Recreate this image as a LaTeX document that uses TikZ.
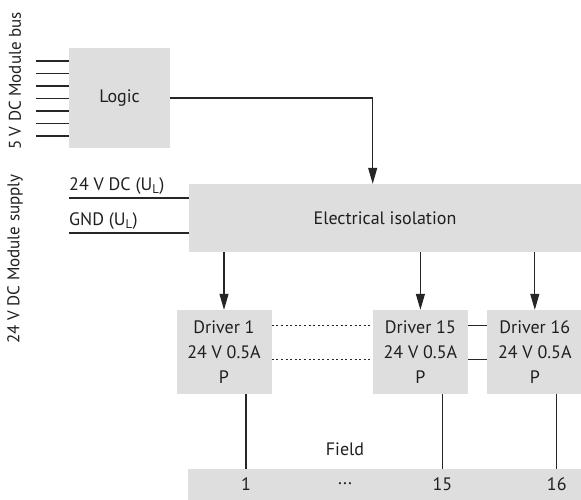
\documentclass[tikz,border=0pt]{standalone}
\usepackage{fontspec}
\setmainfont{PT Sans}
\usetikzlibrary{positioning,arrows.meta}

\begin{document}
\begin{tikzpicture}[
        x=1pt, y=-1pt,
        font=\fontsize{18}{25}\selectfont,
        text=black!88,
        box/.style={fill=black!13, align=center, inner sep=0pt},
        drvbox/.style={box, minimum width=95pt, minimum height=84pt},
        wire/.style={line width=1.1pt, black!85},
        arrow/.style={wire, -{Triangle[width=9pt, length=16pt]}},
        dotwire/.style={wire, dash pattern=on 2pt off 2.6pt},
        lbl/.style={inner sep=0pt}
    ]
    \useasboundingbox (0,0) rectangle (581,500);

    % --- Side labels ---
    \node[lbl, rotate=90, font=\fontsize{17}{20}\selectfont] (buslabel) at (15,81) {5 V DC Module bus};
    \node[lbl, rotate=90, font=\fontsize{17}{20}\selectfont] (supplylabel) at (15,259) {24 V DC Module supply};

    % --- Logic ---
    \node[box, minimum width=101pt, minimum height=100pt] (logic) at (119.5,98) {Logic};
    \foreach \y [count=\i] in {61,73.5,86,98.5,111,123.5,136} {
        \coordinate (bus\i) at (36,\y);
        \draw[wire] (bus\i) -- (bus\i -| logic.west);
    }

    % --- Electrical isolation ---
    \node[box, minimum width=392pt, minimum height=68pt] (iso) at (385,218) {Electrical isolation};

    % --- Supply ---
    \coordinate (ul) at (69,198);
    \coordinate (gnd) at (69,233);
    \draw[wire] (ul) -- (ul -| iso.west);
    \draw[wire] (gnd) -- (gnd -| iso.west);
    \node[lbl, above right=3pt and 0pt of ul] (ullabel) {24 V DC (U\textsubscript{L})};
    \node[lbl, above right=3pt and 0pt of gnd] (gndlabel) {GND (U\textsubscript{L})};

    % --- Drivers ---
    \node[drvbox] (drv1) at (224,352) {Driver 1\\24 V 0.5A\\P};
    \node[drvbox, right=101pt of drv1] (drv15) {Driver 15\\24 V 0.5A\\P};
    \node[drvbox, right=19pt of drv15] (drv16) {Driver 16\\24 V 0.5A\\P};

    % --- Field ---
    \node[box, minimum width=393pt, minimum height=31pt] (field) at (384.5,484.5) {};
    \node[lbl] (fieldlabel) at (345,449) {Field};
    \node[lbl] (dots) at (345,484) {...};

    % --- Connections ---
    \draw[arrow] (logic.east) -| (iso.north -| drv15.west);
    \foreach \d in {drv1,drv15,drv16}
        \draw[arrow] (\d.north |- iso.south) -- (\d.north);

    \draw[dotwire] ([yshift=-16pt]drv1.north east) -- ([yshift=-16pt]drv15.north west);
    \draw[dotwire] ([yshift=-50pt]drv1.north east) -- ([yshift=-50pt]drv15.north west);
    \draw[wire] ([yshift=-16pt]drv15.north east) -- ([yshift=-16pt]drv16.north west);
    \draw[wire] ([yshift=-50pt]drv15.north east) -- ([yshift=-50pt]drv16.north west);

    \foreach \d/\n in {drv1/1,drv15/15,drv16/16} {
        \draw[wire] ([xshift=22pt]\d.south) -- ([xshift=22pt]\d.south |- field.north);
        \node[lbl] (pin\n) at ([xshift=22pt]\d.south |- field.center) {\n};
    }

\end{tikzpicture}
\end{document}
